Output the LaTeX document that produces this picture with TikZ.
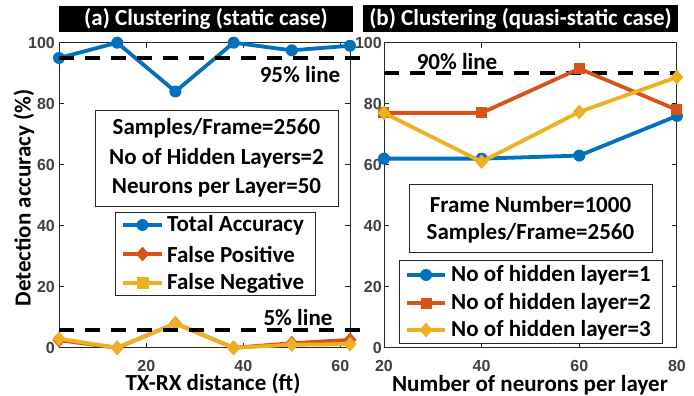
\documentclass[tikz,border=0pt]{standalone}
\usepackage{fontspec}
\setmainfont{Carlito}
\newfontfamily\tickfont{Liberation Sans}
\usetikzlibrary{shapes.geometric}
\definecolor{mblue}{HTML}{0072BD}
\definecolor{morange}{HTML}{D95319}
\definecolor{myellow}{HTML}{EDB120}
\definecolor{axgray}{HTML}{262626}
\definecolor{tkgray}{HTML}{404040}
\tikzset{
  txt/.style={font=\fontsize{23}{28}\selectfont\bfseries, text=black, inner sep=0pt},
  ttl/.style={font=\fontsize{23}{28}\selectfont\bfseries, text=white, fill=black, inner sep=0pt},
  tick/.style={font=\tickfont\fontsize{16}{18}\selectfont\bfseries, text=tkgray, inner sep=0pt},
  axbox/.style={draw=axgray, line width=0.9pt},
  frame/.style={draw=axgray, line width=0.9pt, fill=white, inner sep=0pt},
  dline/.style={line width=3.8pt, line join=round},
  refline/.style={black, line width=4pt, dash pattern=on 15pt off 11pt},
  cmk/.style={circle, fill=mblue, inner sep=0pt, minimum size=12pt},
  smk/.style={rectangle, fill=morange, inner sep=0pt, minimum size=11pt},
  dmkO/.style={diamond, fill=morange, inner sep=0pt, minimum width=13pt, minimum height=15pt},
  dmkY/.style={diamond, fill=myellow, inner sep=0pt, minimum width=13pt, minimum height=15pt},
  sqY/.style={rectangle, fill=myellow, inner sep=0pt, minimum size=12pt},
}
\begin{document}
\begin{tikzpicture}[x=1pt,y=-1pt]
\useasboundingbox[fill=white] (0,0) rectangle (694,396);

% ---------------- Plot (a) ----------------
\node[ttl, minimum width=294pt, minimum height=26pt] (ta) at (206,19) {(a) Clustering (static case)};
\begin{scope}[shift={(49.3,347.8)}, x=4.85pt, y=3.051pt]
  \draw[axbox] (2,0) rectangle (62,100);
  \foreach \v in {0,20,40,60,80,100} {
    \draw[axgray, line width=0.9pt] (2,\v) -- ++(5pt,0);
    \draw[axgray, line width=0.9pt] (62,\v) -- ++(-5pt,0);
    \node[tick, anchor=east] (aya\v) at ([xshift=-4pt]2,\v) {\v};
  }
  \foreach \v in {20,40,60} {
    \draw[axgray, line width=0.9pt] (\v,0) -- ++(0,5pt);
    \draw[axgray, line width=0.9pt] (\v,100) -- ++(0,-5pt);
    \node[tick] (axa\v) at ([yshift=-18pt]\v,0) {\v};
  }
  \foreach \i/\x/\y in {1/2/95,2/14/100,3/26/84,4/38/100,5/50/97.5,6/62/99} {\coordinate (t\i) at (\x,\y);}
  \foreach \i/\x/\y in {1/2/2.5,2/14/0,3/26/8,4/38/0,5/50/1.5,6/62/2.6} {\coordinate (p\i) at (\x,\y);}
  \foreach \i/\x/\y in {1/2/3,2/14/0,3/26/8,4/38/0,5/50/1,6/62/1.2} {\coordinate (n\i) at (\x,\y);}
  \draw[dline, mblue] (t1) -- (t2) -- (t3) -- (t4) -- (t5) -- (t6);
  \foreach \i in {1,...,6} {\node[cmk] (tm\i) at (t\i) {};}
  \draw[dline, morange] (p1) -- (p2) -- (p3) -- (p4) -- (p5) -- (p6);
  \foreach \i in {1,...,6} {\node[dmkO] (pm\i) at (p\i) {};}
  \draw[dline, myellow] (n1) -- (n2) -- (n3) -- (n4) -- (n5) -- (n6);
  \foreach \i in {1,...,6} {\node[dmkY] (nm\i) at (n\i) {};}
  \coordinate (r95a) at (2,95); \coordinate (r95b) at (64.5,95);
  \coordinate (r5a) at (2,5.8); \coordinate (r5b) at (64.5,5.8);
  \draw[refline] (r95a) -- (r95b);
  \draw[refline] (r5a) -- (r5b);
\end{scope}
\node[txt] (l95) at (300,75) {95\% line};
\node[txt] (l5) at (298,318) {5\% line};
\node[txt, rotate=90] (ylab) at (24,198) {Detection accuracy (\%)};
\node[txt] (xlaba) at (213,384) {TX-RX distance (ft)};
% info box a
\node[frame, minimum width=243pt, minimum height=96pt] (boxa) at (216.5,158) {};
\node[txt] (ba1) at (216.5,128.5) {Samples/Frame=2560};
\node[txt] (ba2) at (216.5,158.5) {No of Hidden Layers=2};
\node[txt] (ba3) at (216.5,188) {Neurons per Layer=50};
% legend a
\node[frame, minimum width=200pt, minimum height=83pt] (lega) at (215,253.5) {};
\coordinate (la1s) at (123,225); \coordinate (la1e) at (162,225);
\coordinate (la2s) at (123,254); \coordinate (la2e) at (162,254);
\coordinate (la3s) at (123,283); \coordinate (la3e) at (162,283);
\draw[mblue, line width=4.5pt] (la1s) -- (la1e);
\node[cmk] (la1m) at (142.5,225) {};
\draw[morange, line width=4.5pt] (la2s) -- (la2e);
\node[dmkO] (la2m) at (142.5,254) {};
\draw[myellow, line width=4.5pt] (la3s) -- (la3e);
\node[sqY] (la3m) at (142.5,283) {};
\node[txt, anchor=west] (la1t) at (167,225) {Total Accuracy};
\node[txt, anchor=west] (la2t) at (167,254) {False Positive};
\node[txt, anchor=west] (la3t) at (167,283) {False Negative};

% ---------------- Plot (b) ----------------
\node[ttl, minimum width=315pt, minimum height=27pt] (tb) at (520.5,18.5) {(b) Clustering (quasi-static case)};
\begin{scope}[shift={(286.3,347.8)}, x=4.883pt, y=3.051pt]
  \draw[axbox] (20,0) rectangle (80,100);
  \foreach \v in {0,20,40,60,80,100} {
    \draw[axgray, line width=0.9pt] (20,\v) -- ++(5pt,0);
    \draw[axgray, line width=0.9pt] (80,\v) -- ++(-5pt,0);
    \node[tick, anchor=east] (bya\v) at ([xshift=-2pt]20,\v) {\v};
  }
  \foreach \v in {40,60} {
    \draw[axgray, line width=0.9pt] (\v,0) -- ++(0,5pt);
    \draw[axgray, line width=0.9pt] (\v,100) -- ++(0,-5pt);
  }
  \foreach \v in {20,40,60,80} {
    \node[tick] (bxa\v) at ([yshift=-18pt]\v,0) {\v};
  }
  \foreach \i/\x/\y in {1/20/62,2/40/62,3/60/63,4/80/76} {\coordinate (u\i) at (\x,\y);}
  \foreach \i/\x/\y in {1/20/77,2/40/77,3/60/91.5,4/80/78} {\coordinate (v\i) at (\x,\y);}
  \foreach \i/\x/\y in {1/20/77,2/40/61,3/60/77.3,4/80/88.7} {\coordinate (w\i) at (\x,\y);}
  \coordinate (r90a) at (20,90); \coordinate (r90b) at (80,90);
  \draw[refline] (r90a) -- (r90b);
  \draw[dline, mblue] (u1) -- (u2) -- (u3) -- (u4);
  \foreach \i in {1,...,4} {\node[cmk] (um\i) at (u\i) {};}
  \draw[dline, morange] (v1) -- (v2) -- (v3) -- (v4);
  \foreach \i in {1,...,4} {\node[smk] (vm\i) at (v\i) {};}
  \draw[dline, myellow] (w1) -- (w2) -- (w3) -- (w4);
  \foreach \i in {1,...,4} {\node[dmkY] (wm\i) at (w\i) {};}
\end{scope}
\node[txt] (l90) at (457,62) {90\% line};
\node[txt] (xlabb) at (530,385) {Number of neurons per layer};
% info box b
\node[frame, minimum width=243pt, minimum height=68pt] (boxb) at (530.5,218) {};
\node[txt] (bb1) at (530.5,205) {Frame Number=1000};
\node[txt] (bb2) at (530.5,233) {Samples/Frame=2560};
% legend b
\node[frame, minimum width=263pt, minimum height=83pt] (legb) at (530.5,301.5) {};
\coordinate (lb1s) at (407,275); \coordinate (lb1e) at (445,275);
\coordinate (lb2s) at (407,303); \coordinate (lb2e) at (445,303);
\coordinate (lb3s) at (407,330); \coordinate (lb3e) at (445,330);
\draw[mblue, line width=4.5pt] (lb1s) -- (lb1e);
\node[cmk] (lb1m) at (426,275) {};
\draw[morange, line width=4.5pt] (lb2s) -- (lb2e);
\node[smk] (lb2m) at (426,303) {};
\draw[myellow, line width=4.5pt] (lb3s) -- (lb3e);
\node[dmkY] (lb3m) at (426,330) {};
\node[txt, anchor=west] (lb1t) at (451,275) {No of hidden layer=1};
\node[txt, anchor=west] (lb2t) at (451,303) {No of hidden layer=2};
\node[txt, anchor=west] (lb3t) at (451,330) {No of hidden layer=3};
\end{tikzpicture}
\end{document}
